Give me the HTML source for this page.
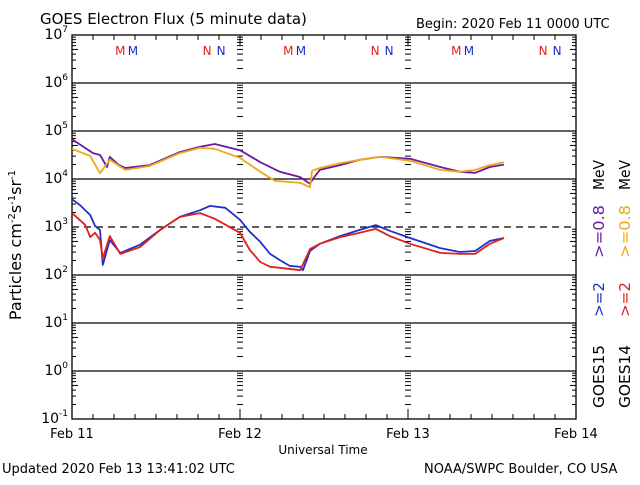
<!DOCTYPE html>
<html><head><meta charset="utf-8"><style>
body{margin:0;background:#fff}
svg text{font-family:"DejaVu Sans","Liberation Sans",sans-serif}
</style></head><body>
<svg id="c" width="640" height="480" xmlns="http://www.w3.org/2000/svg">
<rect width="640" height="480" fill="#fff"/>
<text x="40" y="24" font-size="15">GOES Electron Flux (5 minute data)</text>
<text x="416" y="28" font-size="13">Begin: 2020 Feb 11 0000 UTC</text>
<text x="2" y="473" font-size="13">Updated 2020 Feb 13 13:41:02 UTC</text>
<text x="424" y="473" font-size="13">NOAA/SWPC Boulder, CO USA</text>
<text x="323" y="454" font-size="12" text-anchor="middle">Universal Time</text>
<text transform="translate(21,245) rotate(-90)" font-size="16" text-anchor="middle">Particles cm<tspan dy="-6" font-size="10">-2</tspan><tspan dy="6">s</tspan><tspan dy="-6" font-size="10">-1</tspan><tspan dy="6">sr</tspan><tspan dy="-6" font-size="10">-1</tspan></text>
<g font-size="15">
<g>
<text transform="translate(604,408) rotate(-90)" textLength="63" lengthAdjust="spacingAndGlyphs" fill="#000">GOES15</text>
<text transform="translate(604,317) rotate(-90)" textLength="35" lengthAdjust="spacingAndGlyphs" fill="#1f2fd0">&gt;=2</text>
<text transform="translate(604,258) rotate(-90)" textLength="53" lengthAdjust="spacingAndGlyphs" fill="#6a1aa0">&gt;=0.8</text>
<text transform="translate(604,190) rotate(-90)" textLength="30" lengthAdjust="spacingAndGlyphs" fill="#000">MeV</text>
</g>
<g>
<text transform="translate(630,408) rotate(-90)" textLength="63" lengthAdjust="spacingAndGlyphs" fill="#000">GOES14</text>
<text transform="translate(630,317) rotate(-90)" textLength="35" lengthAdjust="spacingAndGlyphs" fill="#e0201a">&gt;=2</text>
<text transform="translate(630,258) rotate(-90)" textLength="53" lengthAdjust="spacingAndGlyphs" fill="#f0a818">&gt;=0.8</text>
<text transform="translate(630,190) rotate(-90)" textLength="30" lengthAdjust="spacingAndGlyphs" fill="#000">MeV</text>
</g>
</g>
<g id="axes"></g>
<g id="series"></g>
</svg>
<script>
const dayLabels=["Feb 11","Feb 12","Feb 13","Feb 14"];
const decades=[-1,0,1,2,3,4,5,6,7];
const g15hiH=[0,3,4,5,5.4,6.6,7.6,11.1,15.4,18.3,20.4,24,26.9,29.7,32.6,34,34.4,35.4,38.3,41.1,44,48.3,52.6,55.4,57.6,59.7,61.7];
const g15hiV=[4.83,4.54,4.50,4.25,4.46,4.30,4.23,4.29,4.56,4.67,4.73,4.60,4.35,4.15,4.04,3.90,4.00,4.19,4.29,4.40,4.46,4.42,4.25,4.15,4.13,4.25,4.30];
const g14hiH=[0,2.6,4,5.4,7.6,11.1,15.4,18.3,20.4,24,26.9,29,32.6,34,34.3,35.4,38.3,41.1,44,48.3,52.6,55.4,57.6,59.7,61.7];
const g14hiV=[4.63,4.48,4.12,4.40,4.19,4.27,4.54,4.65,4.63,4.44,4.15,3.96,3.92,3.83,4.17,4.23,4.33,4.40,4.46,4.38,4.19,4.15,4.19,4.29,4.35];
const g15loH=[0,1.1,2.6,3.3,4,4.4,5.4,6.9,9.7,12.6,15.4,18.3,19.7,21.9,24,25.4,26.9,28.3,29.7,31.1,32.6,33,34,35.4,38.3,41.1,43.4,45.4,48.3,52.6,55.4,57.6,59.7,61.7];
const g15loV=[3.58,3.46,3.25,3.02,2.94,2.21,2.73,2.46,2.63,2.94,3.21,3.35,3.44,3.40,3.15,2.90,2.69,2.44,2.31,2.19,2.17,2.10,2.50,2.65,2.81,2.94,3.04,2.92,2.77,2.56,2.48,2.50,2.71,2.77];
const g14loH=[0,1.9,2.6,3.3,4,4.4,5.4,6.9,9.7,12.6,15.4,18.3,20.4,24,25.4,26.9,28.3,29.7,32.6,34,35.4,38.3,41.1,43.4,45.4,48.3,52.6,55.4,57.6,59.7,61.7];
const g14loV=[3.29,3.04,2.79,2.88,2.73,2.35,2.81,2.44,2.58,2.94,3.21,3.29,3.17,2.88,2.52,2.27,2.17,2.15,2.10,2.54,2.65,2.79,2.88,2.96,2.81,2.65,2.46,2.44,2.44,2.65,2.77];
const markerH=[6.9,8.7,19.3,21.3];
const markerText=["M","M","N","N"];
const markerCol=["#e0201a","#1f2fd0","#e0201a","#1f2fd0"];

const L=72,R=576,T=35,B=419;
const X=h=>L+(R-L)*h/72;
const Y=lg=>B-(B-T)*(lg+1)/8;
const NS="http://www.w3.org/2000/svg";
function mk(tag,attrs,parent){const e=document.createElementNS(NS,tag);for(const k in attrs)e.setAttribute(k,attrs[k]);parent.appendChild(e);return e;}
const ax=document.getElementById('axes');
decades.forEach(d=>{
  if(d>-1&&d<7){
    const ln=mk('line',{x1:L,x2:R,y1:Y(d),y2:Y(d),stroke:'#000','stroke-width':1.3,'stroke-dasharray':d===3?'7,5':'none'},ax);
    
    
  }
  const t=mk('text',{x:L-4,y:Y(d)+4,'font-size':14,'text-anchor':'end'},ax);
  
  
  t.textContent='10';
  const s=mk('tspan',{dy:-7,'font-size':9},t);s.textContent=String(d);
});
for(let d=-1;d<7;d++){for(let m=2;m<10;m++){
  const y=Y(d+Math.log10(m));const len=m===5?6:4;
  mk('line',{x1:L,x2:L+len,y1:y,y2:y,stroke:'#000'},ax);
  mk('line',{x1:R-len,x2:R,y1:y,y2:y,stroke:'#000'},ax);
  [1,2].forEach(k=>{const x=X(24*k);mk('line',{x1:x-3,x2:x+3,y1:y,y2:y,stroke:'#000'},ax);});
}}
for(let h=0;h<=72;h+=3){const x=X(h);const len=h%24===0?10:5;
  mk('line',{x1:x,x2:x,y1:B,y2:B-len,stroke:'#000'},ax);
  mk('line',{x1:x,x2:x,y1:T,y2:T+len,stroke:'#000'},ax);}
dayLabels.forEach((s,i)=>{const t=mk('text',{x:X(24*i),y:438,'font-size':13,'text-anchor':'middle'},ax);
  
  
  t.textContent=s;});
const fr=mk('rect',{x:L,y:T,width:R-L,height:B-T,fill:'none',stroke:'#000','stroke-width':1.3},ax);


for(let day=0;day<3;day++){markerH.forEach((h,i)=>{
  const t=mk('text',{x:X(h+24*day),y:55,'font-size':12,fill:markerCol[i],'text-anchor':'middle'},ax);
  
  
  t.textContent=markerText[i];});}
const sg=document.getElementById('series');
function line(H,V,col,name){
  const p=mk('polyline',{points:H.map((h,i)=>X(h).toFixed(1)+','+Y(V[i]).toFixed(1)).join(' '),fill:'none',stroke:col,'stroke-width':1.8,'stroke-linejoin':'round'},sg);
  
  
}
line(g15hiH,g15hiV,'#6a1aa0','goes15-0.8mev-line');
line(g14hiH,g14hiV,'#f0a818','goes14-0.8mev-line');
line(g15loH,g15loV,'#1f2fd0','goes15-2mev-line');
line(g14loH,g14loV,'#e0201a','goes14-2mev-line');
</script>
</body></html>
